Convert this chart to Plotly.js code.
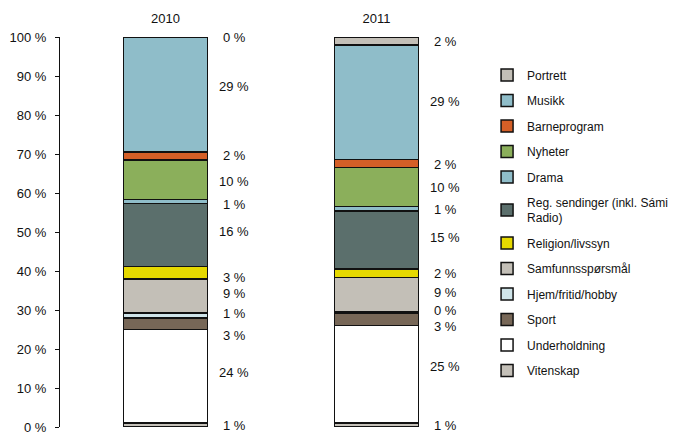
<!DOCTYPE html>
<html>
<head>
<meta charset="utf-8">
<script src="https://cdn.plot.ly/plotly-3.0.1.min.js"></script>
<style>html,body{margin:0;padding:0;background:#fff;}#chart{width:674px;height:435px;}</style>
</head>
<body>
<div id="chart"></div>
<script>
// Categories (years)
var years = ['2010', '2011'];
// Series, in stacking order (bottom to top)
var seriesNames = ['Vitenskap', 'Underholdning', 'Sport', 'Hjem/fritid/hobby', 'Samfunnsspørsmål',
  'Religion/livssyn', 'Reg. sendinger (inkl. Sámi<br>Radio)', 'Drama', 'Nyheter', 'Barneprogram', 'Musikk', 'Portrett'];
var vitenskap = [1.0, 1.0];
var underholdning = [24.0, 25.0];
var sport = [3.0, 3.2];
var hjem = [1.2, 0.3];
var samfunn = [8.8, 8.8];
var religion = [3.1, 2.2];
var regSendinger = [16.2, 14.9];
var drama = [1.0, 1.2];
var nyheter = [10.2, 10.0];
var barneprogram = [2.0, 2.0];
var musikk = [29.4, 29.4];
var portrett = [0.1, 2.0];
var yTickVals = [0, 10, 20, 30, 40, 50, 60, 70, 80, 90, 100];

var seriesValues = [vitenskap, underholdning, sport, hjem, samfunn, religion, regSendinger, drama, nyheter, barneprogram, musikk, portrett];
var colors = ['#C4C0B8', '#FFFFFF', '#776757', '#CFE4E9', '#C3BFB7', '#E6D900', '#5B6F6C', '#8FBDC9', '#8BAF5B', '#D45F27', '#8FBDC9', '#C3BFB7'];
// label vertical nudges in px (layout only)
var nudges = [
  [0, 4, -12, 2, 2, -5, 4, -3, -2, 0, 8, 0],
  [0, 8, -7, 2, 2, 0, 3, -1, -1, -1, 1, -1]
];

var traces = seriesNames.map(function (name, i) {
  return {
    type: 'bar', name: name, x: years, y: seriesValues[i],
    legendgroup: 'g' + i, legendrank: 1000 - i,
    marker: {color: colors[i], line: {color: '#111', width: 1.5}},
    hoverinfo: 'none'
  };
});

var annotations = [];
years.forEach(function (yr, c) {
  var cum = 0;
  seriesValues.forEach(function (vals, i) {
    var v = vals[c];
    var mid = cum + v / 2;
    cum += v;
    annotations.push({
      x: c + 0.325, y: mid, xref: 'x', yref: 'y',
      text: Math.round(v) + ' %', showarrow: false,
      xanchor: 'center', yanchor: 'middle', yshift: nudges[c][i],
      font: {size: 13, color: '#111'}
    });
  });
});

var layout = {
  width: 674, height: 435,
  margin: {l: 60, r: 192, t: 37, b: 8, autoexpand: false},
  paper_bgcolor: '#fff', plot_bgcolor: '#fff',
  font: {family: '"Liberation Sans", Arial, sans-serif', size: 13, color: '#111'},
  barmode: 'stack', bargap: 0.6,
  showlegend: true,
  legend: {x: 1.012, xanchor: 'left', y: 0.94, yanchor: 'top', traceorder: 'grouped',
    tracegroupgap: 6.5, font: {size: 12, color: '#111'}, bgcolor: 'rgba(0,0,0,0)'},
  xaxis: {type: 'category', range: [-0.5, 1.5], side: 'top', showline: false, ticks: '',
    showgrid: false, zeroline: false, tickfont: {size: 13}, ticklabelstandoff: 10, fixedrange: true},
  yaxis: {range: [0, 100], tickvals: yTickVals, ticktext: yTickVals.map(function (v) { return v + ' %'; }),
    showline: true, linecolor: '#111', linewidth: 1, ticks: 'outside', ticklen: 4, tickcolor: '#111',
    ticklabeloverflow: 'allow', ticklabelstandoff: 6,
    showgrid: false, zeroline: false, tickfont: {size: 13}, fixedrange: true},
  annotations: annotations
};

Plotly.newPlot('chart', traces, layout, {displayModeBar: false, staticPlot: true});
</script>
</body>
</html>
